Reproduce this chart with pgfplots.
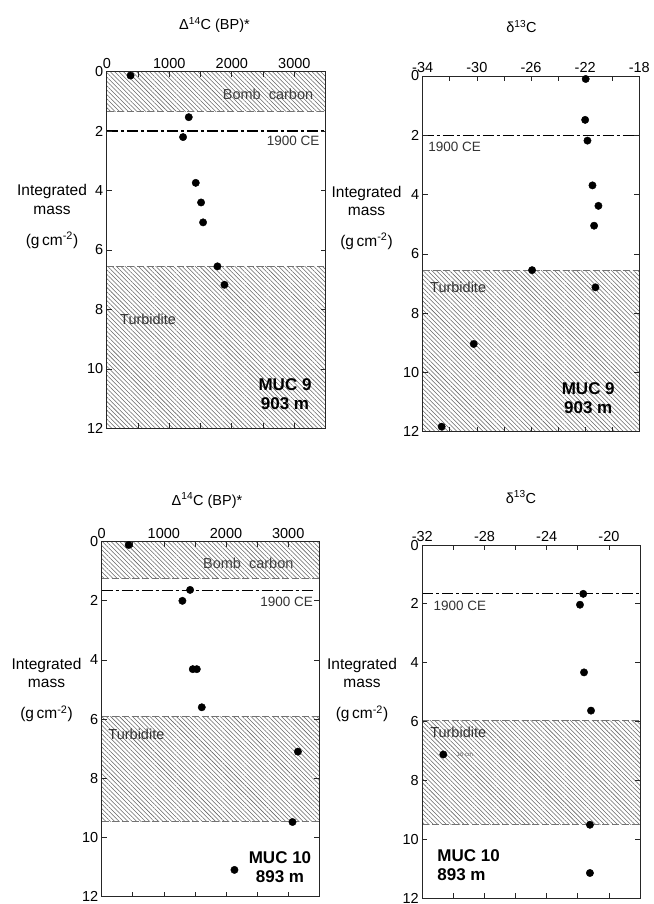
\documentclass[border=0pt]{standalone}
\usepackage{fontspec}
\setmainfont{Liberation Sans}
\usepackage{pgfplots}
\pgfplotsset{compat=1.18}
\usetikzlibrary{patterns.meta}

\pgfplotsset{
  panel/.style={
    scale only axis,
    y dir=reverse, ymin=0, ymax=12, ytick={0,2,...,12},
    xticklabel pos=upper,
    axis on top,
    axis line style={line width=0.8pt, black!85},
    major tick length=5pt, minor tick length=5pt,
    every tick/.style={line width=0.7pt, black!85},
    tick label style={font=\fontsize{14.5}{17}\selectfont},
    /pgf/number format/assume math mode=true,
    /pgf/number format/1000 sep={},
  },
  hatch/.style={draw=none, pattern={Lines[angle=-45,distance=3.1pt,line width=0.55pt]}, pattern color=black!60},
  bound/.style={black!55, line width=0.8pt, dash pattern=on 7pt off 3pt},
  ce/.style={black, line width=1.3pt, dash pattern=on 11pt off 3pt on 3pt off 3pt},
  pts/.style={only marks, mark=*, mark size=3.7pt, black},
}
\newcommand{\lab}{\fontsize{13.5}{16}\selectfont}
\newcommand{\mucfont}{\fontsize{17}{19}\selectfont\bfseries}

\begin{document}
\begin{tikzpicture}
\useasboundingbox (0,0) rectangle (653pt,-904pt);

% ---------- Panel 1 : MUC 9, Delta14C ----------
\begin{axis}[panel, at={(106.8pt,-71.7pt)}, anchor=north west,
  width=218.8pt, height=356.6pt,
  xmin=0, xmax=3500, xtick={0,1000,2000,3000}, minor xtick={500,1500,2500}]
\addplot[hatch] coordinates {(0,0) (3500,0) (3500,1.35) (0,1.35)} -- cycle;
\addplot[hatch] coordinates {(0,6.55) (3500,6.55) (3500,12) (0,12)} -- cycle;
\addplot[bound] coordinates {(0,1.35) (3500,1.35)};
\addplot[bound] coordinates {(0,6.55) (3500,6.55)};
\addplot[ce] coordinates {(0,2.0) (3500,2.0)};
\addplot[pts] coordinates {(380,0.13) (1311,1.53) (1220,2.2) (1423,3.74) (1508,4.4) (1540,5.07) (1770,6.55) (1882,7.17)};
\node[font=\fontsize{14.5}{17}\selectfont, text=black!75] at (axis cs:2579,0.75) {Bomb\ \ carbon};
\node[font=\lab, text=black!80] at (axis cs:2979,2.33) {1900 CE};
\node[font=\fontsize{14.5}{17}\selectfont, text=black!80, anchor=west, inner sep=0pt] at (axis cs:211,8.33) {Turbidite};
\node[font=\mucfont, align=center] at (axis cs:2851,10.84) {MUC 9\\903 m};
\end{axis}

% ---------- Panel 2 : MUC 9, delta13C ----------
\begin{axis}[panel, at={(422.7pt,-76pt)}, anchor=north west,
  width=216.6pt, height=355.7pt,
  xmin=-34, xmax=-18, xtick={-34,-30,-26,-22,-18}, minor xtick={-32,-28,-24,-20}]
\addplot[hatch] coordinates {(-34,6.55) (-18,6.55) (-18,12) (-34,12)} -- cycle;
\addplot[bound] coordinates {(-34,6.55) (-18,6.55)};
\addplot[ce] coordinates {(-34,2.0) (-18,2.0)};
\addplot[pts] coordinates {(-21.96,0.1) (-22.0,1.48) (-21.83,2.18) (-21.46,3.69) (-21.02,4.38) (-21.34,5.05) (-25.92,6.55) (-21.24,7.13) (-30.23,9.04) (-32.6,11.83)};
\node[font=\lab, text=black!80, anchor=west, inner sep=0pt] at (axis cs:-33.59,2.38) {1900 CE};
\node[font=\fontsize{14.5}{17}\selectfont, text=black!80, anchor=west, inner sep=0pt] at (axis cs:-33.46,7.13) {Turbidite};
\node[font=\mucfont, align=center] at (axis cs:-21.77,10.87) {MUC 9\\903 m};
\end{axis}

% ---------- Panel 3 : MUC 10, Delta14C ----------
\begin{axis}[panel, at={(101.7pt,-541.7pt)}, anchor=north west,
  width=217.6pt, height=354.8pt,
  xmin=0, xmax=3500, xtick={0,1000,2000,3000}, minor xtick={500,1500,2500}]
\addplot[hatch] coordinates {(0,0) (3500,0) (3500,1.24) (0,1.24)} -- cycle;
\addplot[hatch] coordinates {(0,5.92) (3500,5.92) (3500,9.47) (0,9.47)} -- cycle;
\addplot[bound] coordinates {(0,1.24) (3500,1.24)};
\addplot[bound] coordinates {(0,5.92) (3500,5.92)};
\addplot[bound] coordinates {(0,9.47) (3500,9.47)};
\addplot[ce] coordinates {(0,1.66) (3400,1.66)};
\addplot[pts] coordinates {(434,0.11) (1422,1.63) (1298,2.0) (1465,4.31) (1530,4.31) (1610,5.6) (3156,7.1) (3069,9.48) (2135,11.1)};
\node[font=\fontsize{14.5}{17}\selectfont, text=black!75] at (axis cs:2358,0.73) {Bomb\ \ carbon};
\node[font=\lab, text=black!80] at (axis cs:2975,2.05) {1900 CE};
\node[font=\fontsize{14.5}{17}\selectfont, text=black!80, anchor=west, inner sep=0pt] at (axis cs:106,6.5) {Turbidite};
\node[font=\mucfont, align=center] at (axis cs:2868,11.0) {MUC 10\\893 m};
\end{axis}

% ---------- Panel 4 : MUC 10, delta13C ----------
\begin{axis}[panel, at={(422.3pt,-545pt)}, anchor=north west,
  width=217.7pt, height=353pt,
  xmin=-32, xmax=-18, xtick={-32,-28,-24,-20}, minor xtick={-30,-26,-22}]
\addplot[hatch] coordinates {(-32,5.96) (-18,5.96) (-18,9.49) (-32,9.49)} -- cycle;
\addplot[bound] coordinates {(-32,5.96) (-18,5.96)};
\addplot[bound] coordinates {(-32,9.49) (-18,9.49)};
\addplot[ce] coordinates {(-32,1.64) (-18,1.64)};
\addplot[pts] coordinates {(-21.65,1.66) (-21.86,2.03) (-21.6,4.33) (-21.15,5.63) (-30.65,7.12) (-21.22,9.51) (-21.22,11.15)};
\node[font=\lab, text=black!80, anchor=west, inner sep=0pt] at (axis cs:-31.29,2.07) {1900 CE};
\node[font=\fontsize{14.5}{17}\selectfont, text=black!80, anchor=west, inner sep=0pt] at (axis cs:-31.5,6.38) {Turbidite};
\node[font=\fontsize{6}{7}\selectfont, text=black!60, anchor=west, inner sep=0pt] at (axis cs:-29.8,7.12) {16 cm};
\node[font=\mucfont, align=left, anchor=west, inner sep=0pt] at (axis cs:-31.04,10.88) {MUC 10\\893 m};
\end{axis}

% ---------- titles ----------
\node[font=\fontsize{14.5}{17}\selectfont, anchor=base] at (214.5pt,-30pt) {Δ\textsuperscript{14}C (BP)*};
\node[font=\fontsize{14.5}{17}\selectfont, anchor=base] at (521.5pt,-33pt) {δ\textsuperscript{13}C};
\node[font=\fontsize{14.5}{17}\selectfont, anchor=base] at (207pt,-505pt) {Δ\textsuperscript{14}C (BP)*};
\node[font=\fontsize{14.5}{17}\selectfont, anchor=base] at (521pt,-503pt) {δ\textsuperscript{13}C};

% ---------- y labels ----------
\foreach \cx/\cy in {52/196, 366.5/197, 46.5/669.5, 362/669.5}{
  \node[font=\fontsize{15.5}{18}\selectfont, anchor=base] at ({\cx*1pt},{-\cy*1pt}) {Integrated};
  \node[font=\fontsize{15.5}{18}\selectfont, anchor=base] at ({\cx*1pt},{-\cy*1pt-18.3pt}) {mass};
  \node[font=\fontsize{15.5}{18}\selectfont, anchor=base] at ({\cx*1pt},{-\cy*1pt-49pt}) {(g\,cm\textsuperscript{-2})};
}
\end{tikzpicture}
\end{document}
